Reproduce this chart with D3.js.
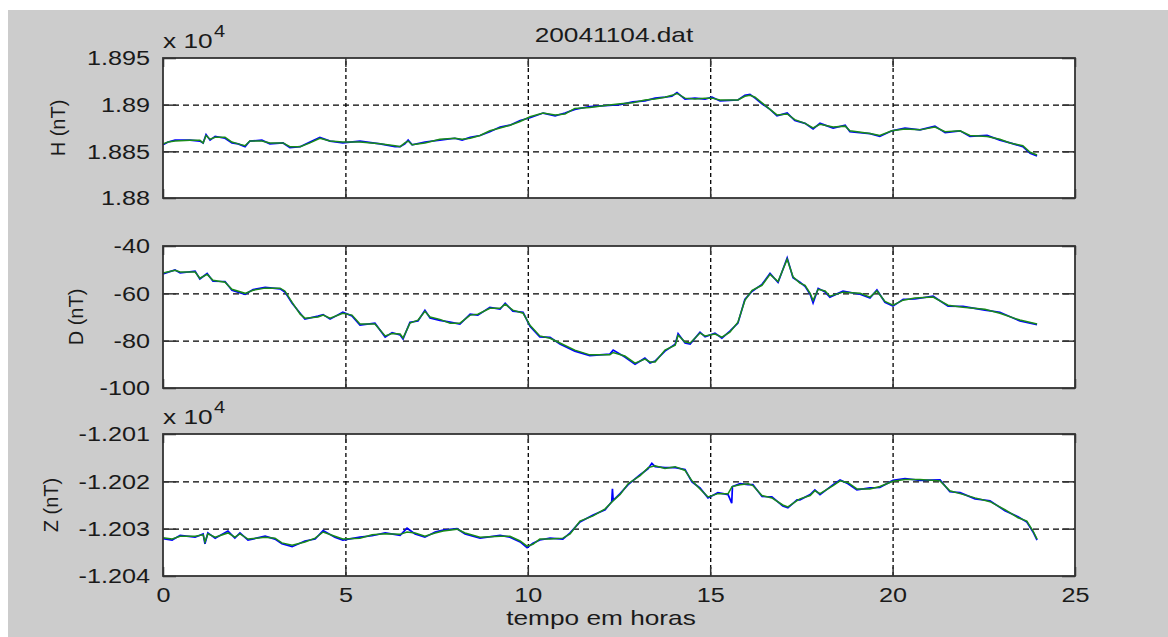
<!DOCTYPE html>
<html><head><meta charset="utf-8">
<script src="https://cdn.jsdelivr.net/npm/d3@7"></script>
<style>
body{margin:0;background:#fff;}
svg text{font-family:"Liberation Sans",Arial,sans-serif;fill:#1a1a1a;}
.sx{transform-box:fill-box;transform:scaleX(1.25);}
.ax text{transform-box:fill-box;transform:scaleX(1.2);}
.axl text{transform-origin:100% 50%;}
.axb text{transform-origin:50% 50%;}
</style></head><body><svg id="c" width="1168" height="637"></svg>
<script>
// ---------- DATA ----------
const title = "20041104.dat";
const xLabel = "tempo em horas";
const xTicks = [0, 5, 10, 15, 20, 25];
const xTickLabels = ["0", "5", "10", "15", "20", "25"];

const hLabel = "H (nT)";
const hTicks = [18800, 18850, 18900, 18950];
const hTickLabels = ["1.88", "1.885", "1.89", "1.895"];
const dLabel = "D (nT)";
const dTicks = [-100, -80, -60, -40];
const dTickLabels = ["-100", "-80", "-60", "-40"];
const zLabel = "Z (nT)";
const zTicks = [-12040, -12030, -12020, -12010];
const zTickLabels = ["-1.204", "-1.203", "-1.202", "-1.201"];
const expLabel = "x 10";
const expPower = "4";

// [hour, nT] filtered (green)
const hGreen = [[0,18858],[0.14,18860],[0.33,18861],[0.74,18862],[1.01,18862],[1.10,18859],[1.18,18867],[1.29,18863],[1.43,18865],[1.70,18865],[1.89,18860],[2.06,18858],[2.25,18856],[2.38,18861],[2.71,18861],[2.93,18859],[3.29,18859],[3.48,18855],[3.76,18855],[4.03,18859],[4.30,18864],[4.58,18861],[4.93,18860],[5.40,18860],[5.95,18858],[6.36,18856],[6.50,18855],[6.63,18859],[6.72,18861],[6.83,18857],[7.18,18859],[7.59,18863],[8.00,18864],[8.20,18863],[8.42,18864],[8.69,18867],[8.96,18872],[9.24,18875],[9.51,18878],[9.79,18882],[10.06,18887],[10.42,18891],[10.75,18889],[11.02,18890],[11.29,18896],[11.70,18897],[12.12,18899],[12.53,18901],[12.88,18902],[13.21,18905],[13.49,18906],[13.76,18908],[13.95,18910],[14.09,18912],[14.31,18907],[14.58,18906],[14.86,18907],[15.05,18907],[15.27,18905],[15.76,18905],[15.95,18909],[16.09,18910],[16.23,18908],[16.42,18902],[16.64,18895],[16.83,18889],[17.11,18890],[17.32,18884],[17.60,18880],[17.82,18875],[18.01,18879],[18.37,18876],[18.70,18877],[18.83,18872],[19.38,18869],[19.65,18867],[19.98,18872],[20.34,18874],[20.75,18873],[21.16,18876],[21.44,18871],[21.85,18872],[22.12,18867],[22.59,18866],[22.94,18863],[23.22,18859],[23.57,18856],[23.77,18849],[23.96,18846]];
// raw (blue)
const hBlue = [[0,18857],[0.14,18860],[0.33,18862],[0.74,18862],[1.01,18861],[1.10,18859],[1.18,18868],[1.29,18862],[1.43,18866],[1.70,18864],[1.89,18859],[2.06,18858],[2.25,18855],[2.38,18861],[2.71,18862],[2.93,18858],[3.29,18859],[3.48,18854],[3.76,18855],[4.03,18860],[4.30,18865],[4.58,18861],[4.93,18859],[5.40,18861],[5.95,18858],[6.36,18855],[6.50,18855],[6.63,18858],[6.72,18862],[6.83,18857],[7.18,18860],[7.59,18862],[8.00,18864],[8.20,18862],[8.42,18865],[8.69,18867],[8.96,18871],[9.24,18876],[9.51,18878],[9.79,18883],[10.06,18886],[10.42,18891],[10.75,18888],[11.02,18891],[11.29,18895],[11.70,18898],[12.12,18899],[12.53,18900],[12.88,18903],[13.21,18904],[13.49,18907],[13.76,18908],[13.95,18909],[14.09,18913],[14.31,18906],[14.58,18907],[14.86,18906],[15.05,18908],[15.27,18904],[15.76,18905],[15.95,18910],[16.09,18911],[16.23,18907],[16.42,18901],[16.64,18895],[16.83,18888],[17.11,18891],[17.32,18883],[17.60,18880],[17.82,18874],[18.01,18880],[18.37,18875],[18.70,18878],[18.83,18871],[19.38,18869],[19.65,18866],[19.98,18872],[20.34,18875],[20.75,18873],[21.16,18877],[21.44,18870],[21.85,18872],[22.12,18866],[22.59,18867],[22.94,18862],[23.22,18859],[23.57,18855],[23.77,18848],[23.96,18845]];

const dGreen = [[0,-51.4],[0.33,-50.3],[0.47,-51],[0.88,-51],[1.01,-53.6],[1.21,-52],[1.37,-54.5],[1.70,-55.3],[1.89,-58.3],[2.25,-60],[2.47,-58.7],[2.80,-57.8],[3.21,-57.8],[3.34,-59],[3.54,-63.8],[3.76,-68.8],[3.89,-70.5],[4.25,-70],[4.39,-69.2],[4.58,-70.5],[4.93,-68.4],[5.18,-69.2],[5.40,-73],[5.81,-73],[6.09,-78],[6.28,-77],[6.50,-77.2],[6.58,-78.9],[6.77,-72.6],[6.99,-71.3],[7.18,-67.6],[7.32,-70],[7.59,-71],[7.87,-72.6],[8.14,-72.6],[8.42,-69.2],[8.63,-68.8],[8.96,-66.3],[9.24,-66.3],[9.38,-64.6],[9.59,-67.1],[9.87,-68.4],[10.06,-73.5],[10.33,-78],[10.61,-79],[10.88,-81],[11.29,-84],[11.70,-86],[12.25,-86],[12.34,-85],[12.66,-86.5],[12.94,-89.5],[13.21,-87.8],[13.35,-89],[13.49,-89],[13.76,-84],[14.04,-81.9],[14.12,-77.7],[14.31,-80.6],[14.45,-81],[14.72,-76.8],[14.86,-78],[15.13,-77.2],[15.32,-78.5],[15.54,-76.4],[15.76,-72.2],[15.95,-63],[16.15,-58.7],[16.42,-56.6],[16.64,-52],[16.86,-55],[17.11,-45.6],[17.27,-53],[17.46,-55.7],[17.60,-56.6],[17.74,-60],[17.82,-63],[17.96,-58.3],[18.15,-59],[18.28,-61.2],[18.64,-59.5],[19.11,-60],[19.38,-61.6],[19.57,-59],[19.79,-63.4],[20.01,-65],[20.29,-62.9],[20.61,-62],[21.11,-61.6],[21.52,-65],[21.93,-65.9],[22.53,-66.7],[22.94,-68.4],[23.49,-71.3],[23.96,-73]];
const dBlue = [[0,-51.8],[0.33,-50.1],[0.47,-51.4],[0.88,-50.6],[1.01,-53.9],[1.21,-51.6],[1.37,-54.9],[1.70,-55.0],[1.89,-58.7],[2.25,-60.4],[2.47,-58.4],[2.80,-57.5],[3.21,-58.1],[3.34,-59.4],[3.54,-64.2],[3.76,-68.4],[3.89,-70.9],[4.25,-69.6],[4.39,-69.0],[4.58,-70.9],[4.93,-68.0],[5.18,-69.6],[5.40,-73.4],[5.81,-72.6],[6.09,-78.5],[6.28,-76.6],[6.50,-77.6],[6.58,-79.3],[6.77,-72.2],[6.99,-71.7],[7.18,-67.2],[7.32,-70.4],[7.59,-71.4],[7.87,-72.2],[8.14,-73.0],[8.42,-68.8],[8.63,-69.2],[8.96,-65.9],[9.24,-66.7],[9.38,-64.2],[9.59,-67.5],[9.87,-68.0],[10.06,-73.9],[10.33,-78.4],[10.61,-78.6],[10.88,-81.4],[11.29,-84.4],[11.70,-86.3],[12.25,-85.7],[12.34,-84.0],[12.66,-86.9],[12.94,-90.0],[13.21,-87.4],[13.35,-89.4],[13.49,-88.6],[13.76,-84.4],[14.04,-81.5],[14.12,-77.0],[14.31,-81.0],[14.45,-81.4],[14.72,-76.4],[14.86,-78.4],[15.13,-76.8],[15.32,-78.9],[15.54,-76.0],[15.76,-72.6],[15.95,-62.6],[16.15,-59.1],[16.42,-56.2],[16.64,-51.6],[16.86,-55.4],[17.11,-45.0],[17.27,-53.4],[17.46,-55.3],[17.60,-57.0],[17.74,-60.4],[17.82,-64.0],[17.96,-57.9],[18.15,-59.4],[18.28,-61.6],[18.64,-59.1],[19.11,-60.4],[19.38,-62.0],[19.57,-58.6],[19.79,-63.8],[20.01,-65.4],[20.29,-62.5],[20.61,-62.4],[21.11,-61.2],[21.52,-65.4],[21.93,-65.5],[22.53,-67.1],[22.94,-68.0],[23.49,-71.7],[23.96,-73.2]];

const zGreen = [[0,-12031.9],[0.25,-12032.2],[0.47,-12031.6],[0.88,-12031.6],[1.10,-12031.3],[1.15,-12032.8],[1.23,-12031.1],[1.43,-12031.8],[1.78,-12030.9],[1.97,-12031.8],[2.11,-12031.1],[2.33,-12032.2],[2.80,-12031.8],[3.07,-12032],[3.26,-12033],[3.54,-12033.5],[3.89,-12032.8],[4.17,-12032],[4.39,-12030.7],[4.71,-12031.6],[4.93,-12032.2],[5.40,-12032],[5.73,-12031.3],[6.09,-12031.1],[6.50,-12031.2],[6.69,-12030.7],[6.91,-12030.9],[7.18,-12031.6],[7.46,-12030.9],[7.68,-12030.5],[8.06,-12030.1],[8.28,-12030.9],[8.69,-12031.8],[9.24,-12031.6],[9.51,-12031.6],[9.79,-12032.6],[9.98,-12033.7],[10.14,-12033.3],[10.33,-12032.2],[10.61,-12032.2],[10.96,-12032],[11.16,-12031.1],[11.43,-12028.4],[11.79,-12027.3],[12.12,-12025.8],[12.34,-12024.1],[12.53,-12022.8],[12.75,-12020.5],[13.08,-12018.8],[13.30,-12017.1],[13.49,-12016.7],[13.76,-12017.3],[14.04,-12016.9],[14.31,-12017.7],[14.50,-12019.9],[14.72,-12021.6],[14.94,-12023.3],[15.21,-12022.6],[15.49,-12022.6],[15.60,-12021.1],[15.82,-12020.7],[16.04,-12020.5],[16.17,-12020.9],[16.42,-12023],[16.69,-12023.5],[16.99,-12025],[17.13,-12025.4],[17.38,-12024.1],[17.46,-12023.7],[17.74,-12023],[17.87,-12022],[18.01,-12022.6],[18.37,-12020.9],[18.56,-12019.9],[18.78,-12020.3],[19.02,-12021.6],[19.38,-12021.6],[19.65,-12021.1],[20.01,-12020],[20.34,-12019.6],[20.75,-12019.6],[21.30,-12019.9],[21.57,-12022],[21.85,-12022.6],[22.26,-12023.5],[22.67,-12024.3],[23.08,-12026],[23.44,-12027.7],[23.68,-12028.4],[23.85,-12030.5],[23.96,-12032.2]];
const zBlue = [[0,-12032.1],[0.25,-12032.4],[0.47,-12031.4],[0.88,-12031.8],[1.10,-12031.1],[1.15,-12033.2],[1.23,-12030.9],[1.43,-12032.0],[1.78,-12030.5],[1.97,-12032.0],[2.11,-12030.9],[2.33,-12032.4],[2.80,-12031.6],[3.07,-12032.2],[3.26,-12033.2],[3.54,-12033.8],[3.89,-12032.6],[4.17,-12032.2],[4.39,-12030.4],[4.71,-12031.8],[4.93,-12032.4],[5.40,-12031.8],[5.73,-12031.5],[6.09,-12030.9],[6.50,-12031.4],[6.69,-12029.9],[6.91,-12031.1],[7.18,-12031.8],[7.46,-12030.7],[7.68,-12030.3],[8.06,-12030.0],[8.28,-12031.1],[8.69,-12032.0],[9.24,-12031.4],[9.51,-12031.8],[9.79,-12032.8],[9.98,-12034.0],[10.14,-12033.1],[10.33,-12032.4],[10.61,-12032.0],[10.96,-12032.2],[11.16,-12030.9],[11.43,-12028.6],[11.79,-12027.1],[12.12,-12026.0],[12.30,-12024.3],[12.32,-12021.6],[12.34,-12024.0],[12.53,-12022.6],[12.75,-12020.7],[13.08,-12018.6],[13.30,-12017.3],[13.40,-12016.2],[13.49,-12016.9],[13.76,-12017.1],[14.04,-12017.1],[14.31,-12017.5],[14.50,-12020.1],[14.72,-12021.4],[14.94,-12023.5],[15.21,-12022.4],[15.49,-12022.8],[15.59,-12024.6],[15.61,-12021.1],[15.82,-12020.5],[16.04,-12020.7],[16.17,-12020.7],[16.42,-12023.2],[16.69,-12023.3],[16.99,-12025.2],[17.13,-12025.6],[17.38,-12023.9],[17.46,-12023.9],[17.74,-12022.8],[17.87,-12021.8],[18.01,-12022.8],[18.37,-12020.7],[18.56,-12019.7],[18.78,-12020.5],[19.02,-12021.8],[19.38,-12021.4],[19.65,-12021.3],[20.01,-12019.8],[20.34,-12019.4],[20.75,-12019.8],[21.30,-12019.7],[21.57,-12022.2],[21.85,-12022.4],[22.26,-12023.7],[22.67,-12024.1],[23.08,-12026.2],[23.44,-12027.5],[23.68,-12028.6],[23.85,-12030.7],[23.96,-12032.4]];

// ---------- DRAW ----------
const svg = d3.select("#c");
svg.append("rect").attr("x", 8).attr("y", 10).attr("width", 1160).attr("height", 627).attr("fill", "#cccccc");

const X0 = 163, X1 = 1075;
const x = d3.scaleLinear().domain([0, 25]).range([X0, X1]);

const panels = [
  {top: 58, bottom: 198, ticks: hTicks, labels: hTickLabels, green: hGreen, blue: hBlue, label: hLabel, labelX: 58, exp: true, xl: false},
  {top: 246, bottom: 388, ticks: dTicks, labels: dTickLabels, green: dGreen, blue: dBlue, label: dLabel, labelX: 76, exp: false, xl: false},
  {top: 434, bottom: 576, ticks: zTicks, labels: zTickLabels, green: zGreen, blue: zBlue, label: zLabel, labelX: 51, exp: true, xl: true}
];

panels.forEach(p => {
  const y = d3.scaleLinear().domain([p.ticks[0], p.ticks[p.ticks.length - 1]]).range([p.bottom, p.top]);
  const h = p.bottom - p.top, w = X1 - X0;
  const g = svg.append("g");
  g.append("rect").attr("x", X0).attr("y", p.top).attr("width", w).attr("height", h).attr("fill", "#fff");

  // grid
  const inner = p.ticks.slice(1, -1);
  g.append("g").attr("transform", `translate(${X0},0)`)
    .call(d3.axisLeft(y).tickValues(inner).tickSize(-w).tickFormat(""))
    .call(a => a.select(".domain").remove())
    .selectAll("line").attr("stroke", "#000").attr("stroke-width", 1.2).attr("stroke-dasharray", "6,4");
  g.append("g").attr("transform", `translate(0,${p.bottom})`)
    .call(d3.axisBottom(x).tickValues(xTicks.slice(1, -1)).tickSize(-h).tickFormat(""))
    .call(a => a.select(".domain").remove())
    .selectAll("line").attr("stroke", "#000").attr("stroke-width", 1.3).attr("stroke-dasharray", "4,3");

  // series
  const line = d3.line().x(d => x(d[0])).y(d => y(d[1]));
  g.append("path").datum(p.blue).attr("d", line).attr("fill", "none").attr("stroke", "#0000ff").attr("stroke-width", 1.7);
  g.append("path").datum(p.green).attr("d", line).attr("fill", "none").attr("stroke", "#1a8c1a").attr("stroke-width", 1.5);

  // axes with inside ticks
  const tl = g.append("g").attr("class", "ax axl").attr("transform", `translate(${X0},0)`)
    .call(d3.axisLeft(y).tickValues(p.ticks).tickSize(-13).tickPadding(13).tickFormat((d, i) => p.labels[i]));
  tl.select(".domain").remove();
  tl.selectAll("text").attr("font-size", 21).attr("font-family", "Liberation Sans, Arial, sans-serif").attr("fill", "#1a1a1a");
  tl.selectAll("line").attr("stroke", "#333").attr("stroke-width", 1.5);

  g.append("g").attr("transform", `translate(${X1},0)`)
    .call(d3.axisRight(y).tickValues(p.ticks).tickSize(-13).tickFormat(""))
    .call(a => a.select(".domain").remove())
    .selectAll("line").attr("stroke", "#333").attr("stroke-width", 1.5);
  g.append("g").attr("transform", `translate(0,${p.top})`)
    .call(d3.axisTop(x).tickValues(xTicks).tickSize(-9).tickFormat(""))
    .call(a => a.select(".domain").remove())
    .selectAll("line").attr("stroke", "#333").attr("stroke-width", 1.5);
  const bx = g.append("g").attr("class", "ax axb").attr("transform", `translate(0,${p.bottom})`)
    .call(d3.axisBottom(x).tickValues(xTicks).tickSize(-9).tickPadding(11).tickFormat((d, i) => p.xl ? xTickLabels[i] : ""));
  bx.select(".domain").remove();
  bx.selectAll("text").attr("font-size", 21).attr("font-family", "Liberation Sans, Arial, sans-serif").attr("fill", "#1a1a1a");
  bx.selectAll("line").attr("stroke", "#333").attr("stroke-width", 1.5);

  g.append("rect").attr("x", X0).attr("y", p.top).attr("width", w).attr("height", h)
    .attr("fill", "none").attr("stroke", "#333").attr("stroke-width", 1.8);

  // y label
  g.append("text").attr("transform", `translate(${p.labelX},${(p.top + p.bottom) / 2}) rotate(-90)`)
    .attr("text-anchor", "middle").attr("dy", "0.35em").attr("font-size", 20).text(p.label);

  if (p.exp) {
    g.append("text").attr("class", "sx").style("transform-origin", "0% 50%")
      .attr("x", X0).attr("y", p.top - 10).attr("font-size", 21).text(expLabel);
    g.append("text").attr("class", "sx").style("transform-origin", "0% 50%")
      .attr("x", 214).attr("y", p.top - 21).attr("font-size", 16).text(expPower);
  }
});

svg.append("text").attr("class", "sx").style("transform-origin", "50% 50%")
  .attr("x", 614).attr("y", 42).attr("text-anchor", "middle").attr("font-size", 21).text(title);
svg.append("text").attr("class", "sx").style("transform-origin", "50% 50%")
  .attr("x", 601).attr("y", 625).attr("text-anchor", "middle").attr("font-size", 21).text(xLabel);
</script></body></html>
